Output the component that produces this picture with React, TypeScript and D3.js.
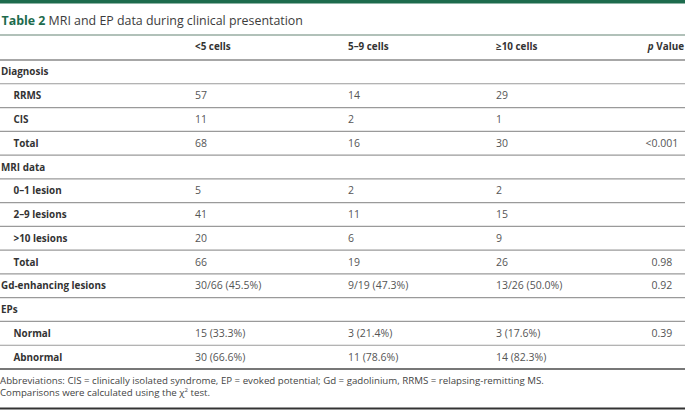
import React from "react";
import * as d3 from "d3";

const columnHeads = ["<5 cells", "5–9 cells", "≥10 cells"];
const rowLabels = [
  "Diagnosis", "RRMS", "CIS", "Total", "MRI data", "0–1 lesion", "2–9 lesions",
  ">10 lesions", "Total", "Gd-enhancing lesions", "EPs", "Normal", "Abnormal",
];
const rowIndent = [0, 1, 1, 1, 0, 1, 1, 1, 1, 0, 0, 1, 1];
const lt5Cells = ["", "57", "11", "68", "", "5", "41", "20", "66", "30/66 (45.5%)", "", "15 (33.3%)", "30 (66.6%)"];
const c5to9Cells = ["", "14", "2", "16", "", "2", "11", "6", "19", "9/19 (47.3%)", "", "3 (21.4%)", "11 (78.6%)"];
const ge10Cells = ["", "29", "1", "30", "", "2", "15", "9", "26", "13/26 (50.0%)", "", "3 (17.6%)", "14 (82.3%)"];
const pValues = ["", "", "", "<0.001", "", "", "", "", "0.98", "0.92", "", "0.39", ""];
const footnotes = [
  "Abbreviations: CIS = clinically isolated syndrome, EP = evoked potential; Gd = gadolinium, RRMS = relapsing-remitting MS.",
];

const W = 685;
const H = 411;
const FONT = "'Open Sans', 'Noto Sans', sans-serif";
const GREEN = "#1d6b4d";

export default function App() {
  const n = rowLabels.length;
  const y = d3.scaleLinear().domain([0, n]).range([60, 369]);
  const colX = d3.scaleOrdinal<number, number>().domain([0, 1, 2]).range([195, 348, 496]);
  const indentX = d3.scaleOrdinal<number, number>().domain([0, 1]).range([1, 13.5]);
  const decX = 657.5;
  const cols = [lt5Cells, c5to9Cells, ge10Cells];
  const rowH = y(1) - y(0);

  return (
    <div style={{ position: "fixed", left: 0, top: 0, width: W, height: H, background: "#fff" }}>
      <svg width={W} height={H} style={{ display: "block" }} fontFamily={FONT}>
        <rect x={0} y={0} width={W} height={H} fill="#fff" />
        <rect x={0} y={0} width={W} height={3.5} fill={GREEN} />
        <text x={1.5} y={25} fontSize={12.4}>
          <tspan fill={GREEN} fontWeight={700}>Table 2</tspan>
          <tspan fill="#3c3c3c"> MRI and EP data during clinical presentation</tspan>
        </text>
        <line x1={0} x2={W} y1={35} y2={35} stroke="#97aca2" strokeWidth={1.5} />
        {columnHeads.map((h, i) => (
          <text key={h} x={colX(i)} y={49.5} fontSize={9.9} fontWeight={700} fill="#333">{h}</text>
        ))}
        <text x={684} y={49.5} fontSize={9.9} fontWeight={700} fill="#333" textAnchor="end">
          <tspan fontStyle="italic">p</tspan> Value
        </text>
        <line x1={0} x2={W} y1={y(0)} y2={y(0)} stroke="#8a8a8a" strokeWidth={1.3} />
        {rowLabels.map((lab, r) => {
          const base = y(r) + rowH / 2 + 3.6;
          const p = pValues[r];
          const dot = p.indexOf(".");
          return (
            <g key={r}>
              <text x={indentX(rowIndent[r])} y={base} fontSize={9.9} fontWeight={700} fill="#333">{lab}</text>
              {cols.map((c, ci) => (
                <text key={ci} x={colX(ci)} y={base} fontSize={10.5} fill="#555">{c[r]}</text>
              ))}
              {p && (
                <>
                  <text x={decX} y={base} fontSize={10.5} fill="#555" textAnchor="end">{p.slice(0, dot)}</text>
                  <text x={decX} y={base} fontSize={10.5} fill="#555">{p.slice(dot)}</text>
                </>
              )}
              <line x1={0} x2={W} y1={y(r + 1)} y2={y(r + 1)}
                stroke={r === n - 1 ? "#777" : "#9a9a9a"} strokeWidth={r === n - 1 ? 1.8 : 1.2} />
            </g>
          );
        })}
        <text x={0} y={383.5} fontSize={9.7} fill="#444">{footnotes[0]}</text>
        <text x={0} y={396} fontSize={9.7} fill="#444">
          Comparisons were calculated using the χ<tspan dy={-4} fontSize={6}>2</tspan><tspan dy={4}> test.</tspan>
        </text>
        <line x1={0} x2={W} y1={408.5} y2={408.5} stroke="#333" strokeWidth={1.8} />
      </svg>
    </div>
  );
}
